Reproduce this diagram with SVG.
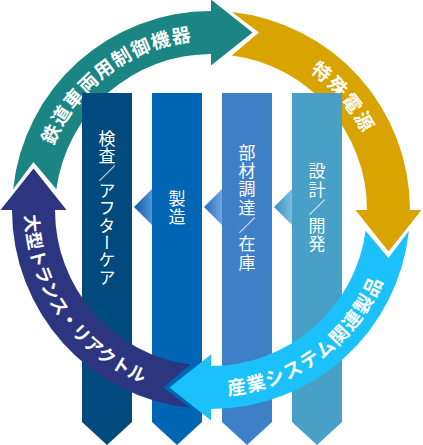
<svg xmlns="http://www.w3.org/2000/svg" width="423" height="445" viewBox="0 0 423 445">
<defs>
<style>
.ring-t{font-family:"Noto Sans CJK JP","Noto Sans CJK SC",sans-serif;font-weight:bold;fill:#ffffff;}
.col-t{font-family:"Noto Sans CJK JP","Noto Sans CJK SC",sans-serif;fill:#ffffff;font-size:17px;writing-mode:vertical-rl;text-anchor:middle;}
</style>
<linearGradient id="g2" x1="0" y1="0" x2="1" y2="0"><stop offset="0" stop-color="#0a5aa8"/><stop offset="1" stop-color="#5596d6"/></linearGradient>
<linearGradient id="g3" x1="0" y1="0" x2="1" y2="0"><stop offset="0" stop-color="#2a6cbe"/><stop offset="1" stop-color="#6ea6de"/></linearGradient>
<linearGradient id="g4" x1="0" y1="0" x2="1" y2="0"><stop offset="0" stop-color="#3a90c2"/><stop offset="1" stop-color="#7cbde0"/></linearGradient>
<path id="tp-teal" d="M43.58,180.48 A170,170 0 0 1 240.52,42.58"/>
<path id="tp-gold" d="M269.14,50.25 A170,170 0 0 1 378.42,180.48"/>
<path id="tp-cyan" d="M178.70,393.17 A186,186 0 0 0 394.17,242.30"/>
<path id="tp-navy" d="M27.83,177.70 A186,186 0 0 0 178.70,393.17"/>
</defs>
<rect width="423" height="445" fill="#ffffff"/>
<g id="connectors">
<g id="arrow-teal">
<path d="M13.09,189.20 A199,199 0 0 1 211,11 L211,-0.5 L252.5,32.5 L211,65.5 L211,54 A156,156 0 0 0 56.38,189.29 L33.5,162.1 Z" fill="#1a8583"/>
<text class="ring-t" font-size="19" letter-spacing="1.3"><textPath href="#tp-teal" startOffset="127.6" text-anchor="middle">鉄道車両用制御機器</textPath></text>
</g>
<g id="arrow-gold">
<path d="M231.80,12.09 A199,199 0 0 1 410,210 L421.5,210 L388.5,251.5 L355.5,210 L367,210 A156,156 0 0 0 231.71,55.38 L258.9,32.5 Z" fill="#d9a400"/>
<text class="ring-t" font-size="19" letter-spacing="2"><textPath href="#tp-gold" startOffset="87.8" text-anchor="middle">特殊電源</textPath></text>
</g>
</g>
<g id="columns">
<g id="col-inspection">
<path d="M82,93 H132 V422 L107,445 L82,422 Z" fill="#004a7e"/>
<text class="col-t" x="107" y="208" letter-spacing="0.3">検査／アフターケア</text>
</g>
<g id="col-manufacturing">
<path d="M152,93 H202 V422 L177,445 L152,422 Z" fill="#0065b3"/>
<path d="M152,189 L134,207 L152,225 Z" fill="url(#g2)"/>
<text class="col-t" x="177" y="208" letter-spacing="1.3">製造</text>
</g>
<g id="col-procurement">
<path d="M222,93 H272 V422 L247,445 L222,422 Z" fill="#3e80c8"/>
<path d="M222,189 L204,207 L222,225 Z" fill="url(#g3)"/>
<text class="col-t" x="247" y="208" letter-spacing="1.3">部材調達／在庫</text>
</g>
<g id="col-design">
<path d="M292,93 H342 V422 L317,445 L292,422 Z" fill="#48a0c6"/>
<path d="M292,189 L274,207 L292,225 Z" fill="url(#g4)"/>
<text class="col-t" x="317" y="208" letter-spacing="1.3">設計／開発</text>
</g>
</g>
<g id="connectors-front">
<g id="arrow-cyan">
<path d="M408.91,230.80 A199,199 0 0 1 211,409 L211,420.5 L169.5,387.5 L211,354.5 L211,366 A156,156 0 0 0 365.62,230.71 L388.5,257.9 Z" fill="#1bc1fa"/>
<text class="ring-t" font-size="19" letter-spacing="1.35"><textPath href="#tp-cyan" startOffset="151.3" text-anchor="middle">産業システム関連製品</textPath></text>
</g>
<g id="arrow-navy">
<path d="M190.20,407.91 A199,199 0 0 1 12,210 L0.5,210 L33.5,168.5 L66.5,210 L55,210 A156,156 0 0 0 190.29,364.62 L163.1,387.5 Z" fill="#2c3580"/>
<text class="ring-t" font-size="18" letter-spacing="0.2"><textPath href="#tp-navy" startOffset="146.1" text-anchor="middle">大型トランス・リアクトル</textPath></text>
</g>
</g>
</svg>
